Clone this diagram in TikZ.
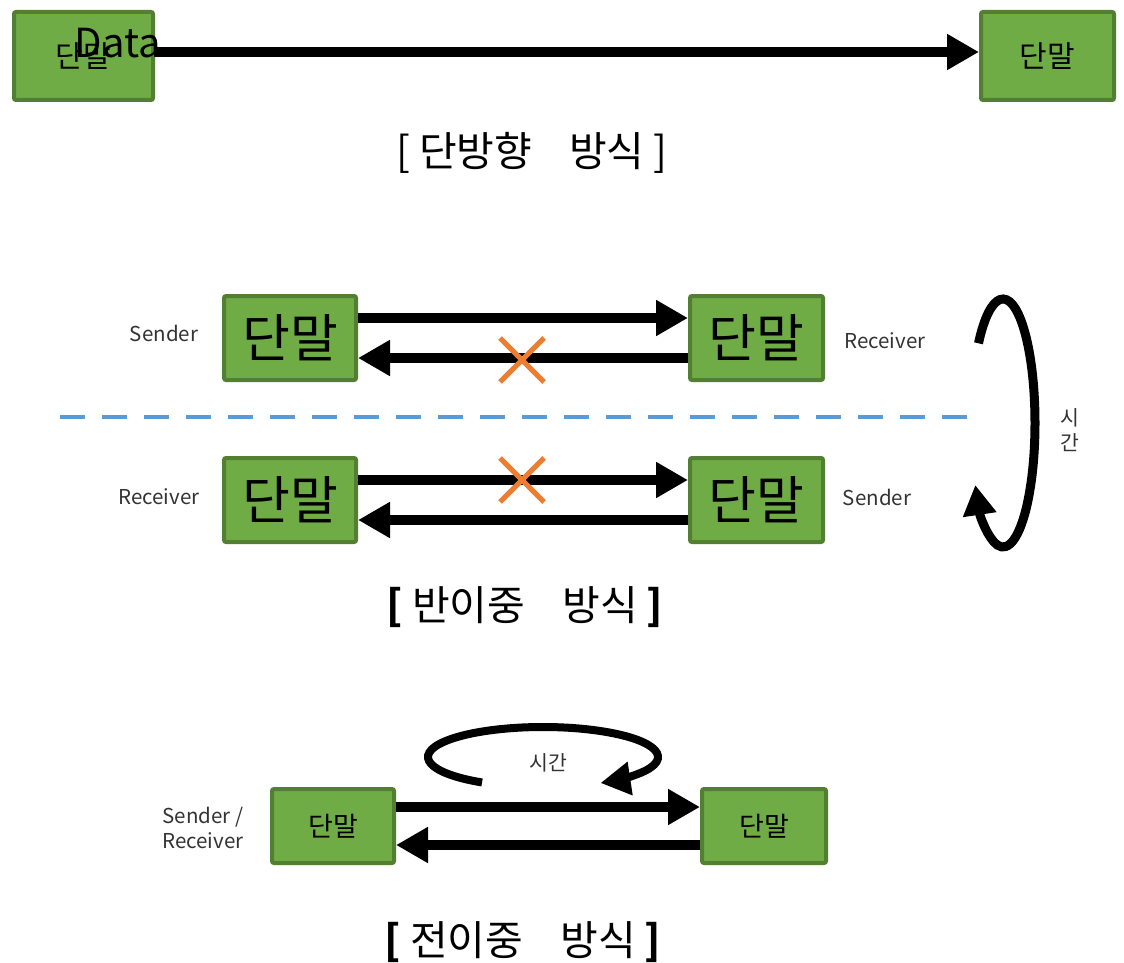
\documentclass[tikz,border=0pt]{standalone}
\usepackage{fontspec}
\setmainfont{Noto Sans CJK KR}
\usetikzlibrary{arrows.meta}

\definecolor{termfill}{HTML}{6FAC46}
\definecolor{termline}{HTML}{527F32}
\definecolor{dashblue}{HTML}{5B9BD5}
\definecolor{crossorange}{HTML}{ED7D31}
\definecolor{labelgray}{HTML}{333333}

\tikzset{
  term/.style={draw=termline, fill=termfill, line width=4pt, rounded corners=2pt, inner sep=0pt},
  flow/.style={line width=10pt, -{Triangle[length=32pt,width=34pt]}},
  turn/.style={line width=9pt, -{Triangle[length=30pt,width=32pt]}},
  cross/.style={crossorange, line width=5pt},
  side/.style={text=labelgray, font=\fontsize{20.5}{25}\selectfont, align=center},
  caption/.style={font=\fontsize{41}{44}\selectfont}
}

\begin{document}
\begin{tikzpicture}[x=1pt, y=-1pt]
  \useasboundingbox (0,0) rectangle (1124,963);

  % simplex
  \node[term, minimum width=139, minimum height=88, font=\fontsize{30}{32}\selectfont] (sa) at (83.5,56) {단말};
  \node[term, minimum width=133, minimum height=88, font=\fontsize{30}{32}\selectfont] (sb) at (1047.5,56) {단말};
  \draw[flow] ([yshift=4pt]sa.east) -- ([yshift=4pt]sb.west);
  \node[font=\fontsize{40}{44}\selectfont] (data) at (118,43) {Data};
  \node[caption] (cap1) at (532,153) {[ 단방향\hspace{0.9em}방식 ]};

  % half duplex, first turn
  \node[term, minimum width=132, minimum height=84, font=\fontsize{52}{56}\selectfont] (ha) at (290,338) {단말};
  \node[term, minimum width=133, minimum height=84, font=\fontsize{52}{56}\selectfont] (hb) at (756.5,338) {단말};
  \draw[flow] ([yshift=20pt]ha.east) -- ([yshift=20pt]hb.west);
  \draw[flow] ([yshift=-20pt]hb.west) -- ([yshift=-20pt]ha.east);
  \draw[cross] (522,360) +(-22,-22) -- +(22,22) +(-22,22) -- +(22,-22);
  \node[side] (snd1) at (164,333) {Sender};
  \node[side] (rcv1) at (885,341) {Receiver};

  \draw[dashblue, line width=4pt, dash pattern=on 25pt off 17pt] (60,417) -- (975,417);

  % half duplex, second turn
  \node[term, minimum width=132, minimum height=84, font=\fontsize{52}{56}\selectfont] (hc) at (290,500) {단말};
  \node[term, minimum width=133, minimum height=84, font=\fontsize{52}{56}\selectfont] (hd) at (756.5,500) {단말};
  \draw[flow] ([yshift=20pt]hc.east) -- ([yshift=20pt]hd.west);
  \draw[flow] ([yshift=-20pt]hd.west) -- ([yshift=-20pt]hc.east);
  \draw[cross] (522,480) +(-22,-22) -- +(22,22) +(-22,22) -- +(22,-22);
  \node[side] (rcv2) at (159,497) {Receiver};
  \node[side] (snd2) at (877,497) {Sender};

  \draw[turn] (1003,423) ++(220:32 and 124) arc[start angle=220, end angle=510, x radius=32, y radius=124];
  \node[side] (time1) at (1070,430) {시\\간};
  \node[caption] (cap2) at (525,607) {\textbf{[} 반이중\hspace{0.9em}방식 \textbf{]}};

  % full duplex
  \node[term, minimum width=122, minimum height=74, font=\fontsize{27}{29}\selectfont] (fa) at (333,826) {단말};
  \node[term, minimum width=124, minimum height=74, font=\fontsize{27}{29}\selectfont] (fb) at (764,826) {단말};
  \draw[flow] ([yshift=19pt]fa.east) -- ([yshift=19pt]fb.west);
  \draw[flow] ([yshift=-19pt]fb.west) -- ([yshift=-19pt]fa.east);
  \node[side] (both) at (203,828) {Sender /\\Receiver};

  \draw[turn, line width=8pt] (543,757) ++(122:115 and 30) arc[start angle=122, end angle=420, x radius=115, y radius=30];
  \node[side] (time2) at (548,763) {시간};
  \node[caption] (cap3) at (523,942) {\textbf{[} 전이중\hspace{0.9em}방식 \textbf{]}};
\end{tikzpicture}
\end{document}
